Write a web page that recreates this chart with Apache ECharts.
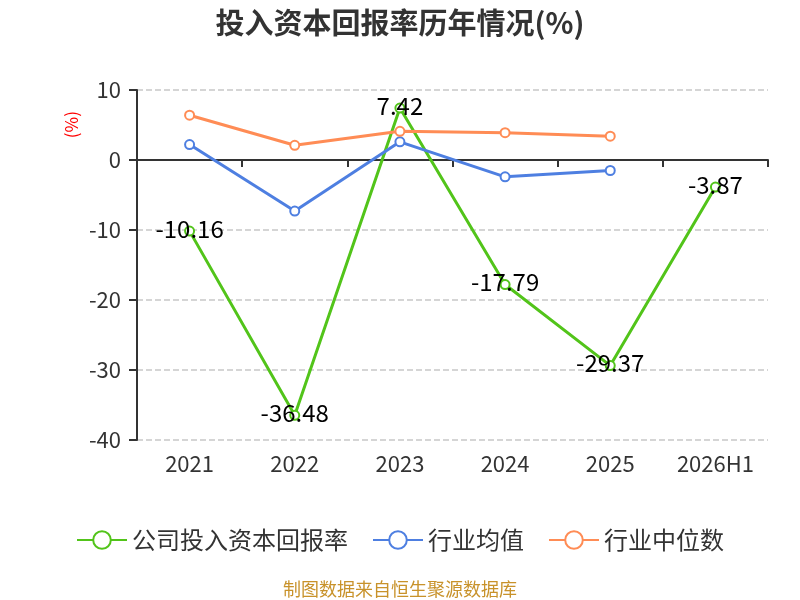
<!DOCTYPE html>
<html>
<head>
<meta charset="utf-8">
<script src="https://cdn.jsdelivr.net/npm/echarts@6/dist/echarts.min.js"></script>
<style>
  html, body { margin: 0; padding: 0; background: #fff; }
  #main { width: 800px; height: 600px; }
</style>
</head>
<body>
<div id="main"></div>
<script>
// 年份
var years = ['2021', '2022', '2023', '2024', '2025', '2026H1'];
// 公司投入资本回报率
var companyRoic = [-10.16, -36.48, 7.42, -17.79, -29.37, -3.87];
// 行业均值
var industryAvg = [2.2, -7.3, 2.6, -2.4, -1.5, null];
// 行业中位数
var industryMedian = [6.4, 2.1, 4.1, 3.9, 3.4, null];
var yTicks = { min: -40, max: 10, interval: 10 };

var font = '"Noto Sans CJK SC", "Noto Sans", sans-serif';
var chart = echarts.init(document.getElementById('main'));

var lineSeries = function (name, data, color, showLabel) {
  return {
    name: name,
    type: 'line',
    data: data,
    xAxisIndex: 0,
    symbol: 'emptyCircle',
    symbolSize: 9,
    lineStyle: { width: 3, color: color },
    itemStyle: { color: color, borderWidth: 2 },
    label: {
      show: showLabel,
      position: 'top',
      distance: -15,
      color: '#000',
      fontSize: 24,
      fontFamily: font
    }
  };
};

var option = {
  backgroundColor: '#fff',
  animation: false,
  textStyle: { fontFamily: font },
  title: {
    text: '投入资本回报率历年情况(%)',
    left: 'center',
    top: 3,
    textStyle: { fontSize: 29, fontWeight: 'bold', color: '#333', fontFamily: font }
  },
  grid: { left: 137, right: 32, top: 90, bottom: 160 },
  legend: {
    bottom: 43,
    left: 'center',
    itemWidth: 50,
    itemHeight: 22,
    itemGap: 24,
    textStyle: { fontSize: 24, color: '#333', fontFamily: font },
    data: ['公司投入资本回报率', '行业均值', '行业中位数']
  },
  graphic: [
    {
      type: 'text',
      left: 63,
      top: 111,
      rotation: Math.PI / 2,
      style: { text: '(%)', fill: '#ff0000', fontSize: 17, fontFamily: font }
    },
    {
      type: 'text',
      left: 'center',
      bottom: 2,
      style: { text: '制图数据来自恒生聚源数据库', fill: '#c8922a', fontSize: 18, fontFamily: font }
    }
  ],
  xAxis: [
    {
      type: 'category',
      data: years,
      boundaryGap: true,
      axisLine: { onZero: true, lineStyle: { color: '#333', width: 2 } },
      axisTick: { show: true, length: 7, lineStyle: { color: '#333', width: 2 } },
      axisLabel: { show: false },
      splitLine: { show: false }
    },
    {
      type: 'category',
      data: years,
      position: 'bottom',
      boundaryGap: true,
      axisLine: { show: false, onZero: false },
      axisTick: { show: false },
      axisLabel: { color: '#333', fontSize: 22, margin: 13, fontFamily: font }
    }
  ],
  yAxis: {
    type: 'value',
    min: yTicks.min,
    max: yTicks.max,
    interval: yTicks.interval,
    axisLine: { show: true, lineStyle: { color: '#333', width: 2 } },
    axisTick: { show: true, length: 8, lineStyle: { color: '#333', width: 2 } },
    axisLabel: { color: '#333', fontSize: 22, margin: 16, fontFamily: font },
    splitLine: { show: true, lineStyle: { color: '#c8c8c8', type: 'dashed', width: 1.5 } }
  },
  series: [
    lineSeries('公司投入资本回报率', companyRoic, '#52c41a', true),
    lineSeries('行业均值', industryAvg, '#4e7fe1', false),
    lineSeries('行业中位数', industryMedian, '#ff8c55', false)
  ]
};
chart.setOption(option);
</script>
</body>
</html>
